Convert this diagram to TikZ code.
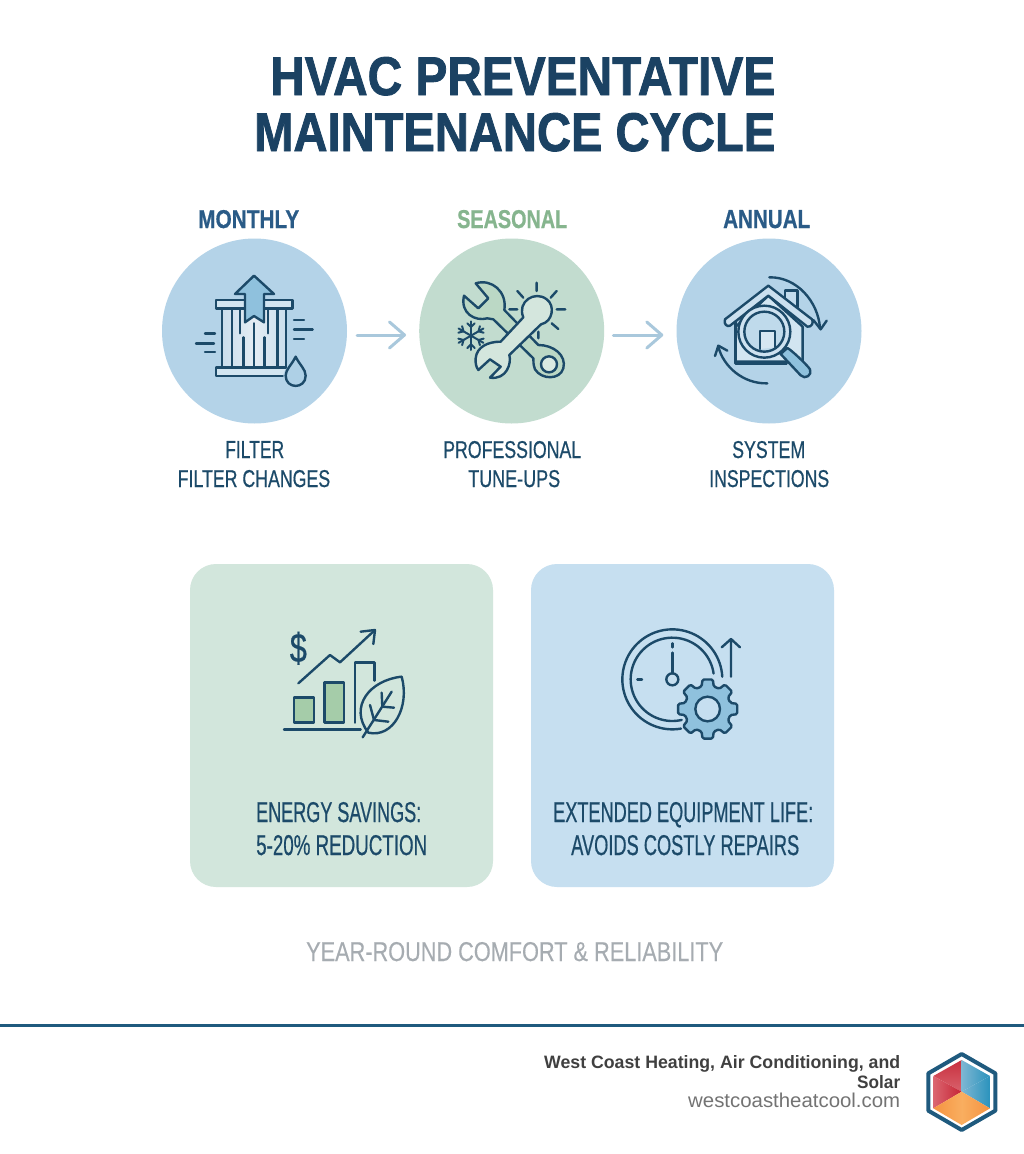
\documentclass[tikz,border=0pt]{standalone}
\usepackage{fontspec}
\usepackage{graphicx}
\setmainfont{Liberation Sans}
\newfontfamily\titlefont[BoldFeatures={FakeBold=1.6}]{Liberation Sans}
\newfontfamily\headfont[BoldFeatures={FakeBold=0.8}]{Liberation Sans}
\newfontfamily\labelfont[FakeBold=0.7]{Liberation Sans}
\newfontfamily\tagfont[FakeBold=0.3]{Liberation Sans}
\usetikzlibrary{arrows.meta}
\definecolor{navy}{HTML}{1B4263}
\definecolor{ink}{HTML}{1C4A69}
\definecolor{bluehead}{HTML}{2A5B87}
\definecolor{greenhead}{HTML}{86B58E}
\definecolor{circblue}{HTML}{B4D3E8}
\definecolor{circgreen}{HTML}{C2DCCF}
\definecolor{boxgreen}{HTML}{D2E6DC}
\definecolor{boxblue}{HTML}{C6DFF0}
\definecolor{arrowblue}{HTML}{A9C8DC}
\definecolor{accent}{HTML}{8FC1DD}
\definecolor{barfill}{HTML}{A5CCA9}
\definecolor{tagline}{HTML}{A6ACB1}
\definecolor{rulecol}{HTML}{1F5A7E}
\definecolor{filterA}{HTML}{C9DDEC}
\definecolor{filterB}{HTML}{E4EDF4}
\definecolor{redA}{HTML}{C8303F}
\definecolor{redB}{HTML}{D9626C}
\definecolor{redC}{HTML}{DB6670}
\definecolor{redD}{HTML}{C62435}
\definecolor{blueA}{HTML}{7DB6D2}
\definecolor{blueB}{HTML}{2A93BD}
\definecolor{orA}{HTML}{F9AE60}
\definecolor{orB}{HTML}{F59340}
\newcommand\lbl[7]{% name, x0, x1, ytop, ybase, style, text
  \pgfmathsetlengthmacro\wid{#3-#2}\pgfmathsetlengthmacro\hei{#5-#4}
  \node[anchor=base west,inner sep=0pt,#6] (#1) at (#2,#5)
    {\resizebox{\wid}{\hei}{\fontsize{20}{20}\selectfont #7}};}
\tikzset{
  x=1pt,y=-1pt,
  titletxt/.style={text=navy,font=\titlefont\bfseries},
  headblue/.style={text=bluehead,font=\headfont\bfseries},
  headgreen/.style={text=greenhead,font=\headfont\bfseries},
  bodytxt/.style={text=ink,font=\labelfont},
  disc/.style={circle,minimum size=185pt,inner sep=0pt},
  panel/.style={rectangle,minimum width=303pt,minimum height=323pt,rounded corners=26pt,inner sep=0pt},
  flow/.style={draw=arrowblue,line width=3pt,line cap=round,-{Straight Barb[length=15pt,width=26pt,line width=3pt,round]}},
  ico/.style={draw=ink,line width=2.4pt,line cap=round,line join=round},
}
\begin{document}
\begin{tikzpicture}
\useasboundingbox (0,0) rectangle (1024,1154);
\fill[white] (0,0) rectangle (1024,1154);

% title
\lbl{t1}{270}{775}{57}{95}{titletxt}{HVAC PREVENTATIVE}
\lbl{t2}{254}{775}{113}{151}{titletxt}{MAINTENANCE CYCLE}

% heads
\lbl{h1}{198}{299}{210}{228}{headblue}{MONTHLY}
\lbl{h2}{457}{567}{210}{228}{headgreen}{SEASONAL}
\lbl{h3}{723}{810}{210}{228}{headblue}{ANNUAL}

% circles
\node[disc,fill=circblue] (c1) at (254.5,331) {};
\node[disc,fill=circgreen] (c2) at (511.7,331) {};
\node[disc,fill=circblue] (c3) at (769,331) {};
\draw[flow] ([shift={(10,4)}]c1.east) -- ([shift={(-13,4)}]c2.west);
\draw[flow] ([shift={(9,4)}]c2.east) -- ([shift={(-13,4)}]c3.west);

% filter icon
\begin{scope}[shift={(150,230)},scale=1/3]
  \fill[left color=filterA,right color=filterA,middle color=filterB] (216,236) rectangle (408,412);
  \draw[ico] (216,236) -- (216,412) (246,236) -- (246,412) (270,236) -- (270,310)
     (281,322) -- (281,412) (312,280) -- (312,412) (343,322) -- (343,412) (354,236) -- (354,310)
     (382,236) -- (382,412) (408,236) -- (408,412);
  \draw[ico,fill=circblue!60!white] (198,210) rectangle (427,236);
  \draw[ico,fill=circblue!60!white] (398,438) -- (198,438) -- (198,412) -- (408,412);
  \draw[ico,fill=accent] (312,137) -- (372,192) -- (342,192) -- (342,277) -- (312,258) -- (285,277) -- (285,192) -- (255,192) -- cycle;
  \draw[ico] (165,310) -- (195,310) (138,340) -- (192,340) (165,366) -- (195,366);
  \draw[ico] (432,270) -- (462,270) (432,298) -- (488,298) (432,327) -- (462,327);
  \draw[ico,fill=circblue!85!accent] (437,380) .. controls (425,405) and (407,418) .. (407,437)
     .. controls (407,478) and (467,478) .. (467,437) .. controls (467,418) and (449,405) .. (437,380) -- cycle;
\end{scope}

% tools icon
\begin{scope}[shift={(410,230)},scale=1/3]
  \draw[ico] (380,158) -- (380,183) (322,183) -- (340,203) (440,183) -- (422,203)
     (440,238) -- (466,238) (298,238) -- (322,238) (425,280) -- (445,297) (385,305) -- (385,325);
  \draw[ico,fill=circgreen!75!barfill]
     (197,160) .. controls (245,145) and (292,185) .. (283,240) -- (385,345)
     .. controls (430,345) and (470,375) .. (460,415) .. controls (450,450) and (395,450) .. (375,418)
     .. controls (370,405) and (370,395) .. (370,385) -- (250,268) -- (232,265)
     .. controls (195,275) and (150,250) .. (162,197) -- (205,235) -- (235,205) -- cycle;
  \draw[ico,fill=circgreen!60!white] (417,403) circle (24);
  \draw[ico,fill=circgreen!70!white]
     (340,262) -- (272,335) .. controls (235,335) and (200,350) .. (197,385) .. controls (196,400) and (198,410) .. (205,420)
     -- (240,388) -- (272,410) -- (240,443) .. controls (290,450) and (305,400) .. (298,375) -- (393,283)
     .. controls (430,275) and (435,225) .. (410,208) .. controls (375,180) and (320,215) .. (340,262) -- cycle;
  \begin{scope}[shift={(183,317)}]
    \foreach \a in {30,90,150,210,270,330}{
      \draw[ico,line width=2pt] (0,0) -- (\a:43);
      \draw[ico,line width=2pt] (\a:26) -- ++({\a+45}:16) (\a:26) -- ++({\a-45}:16);
    }
  \end{scope}
\end{scope}

% house icon
\begin{scope}[shift={(670,230)},scale=1/3]
  \draw[ico,fill=circblue!80!white] (345,205) -- (345,182) -- (382,182) -- (382,232);
  \draw[ico,fill=circblue!60!white] (197,290) -- (295,197) -- (398,290) -- (398,395) -- (197,395) -- cycle;
  \draw[ico] (197,272) -- (197,400) -- (350,400);
  \draw[ico,fill=circblue!70!white] (295,167) -- (165,268) .. controls (160,282) and (172,292) .. (180,287)
     -- (295,197) -- (412,290) .. controls (425,292) and (432,278) .. (426,268) -- cycle;
  \draw[ico,fill=circblue!65!white] (283,305) circle (78);
  \draw[ico,fill=circblue!85!white] (283,305) circle (60);
  \draw[ico,fill=circblue!55!white] (270,357) -- (270,303) -- (315,303) -- (315,352);
  \draw[ico,fill=accent] (332,372) -- (352,354) .. controls (362,358) and (412,405) .. (420,418)
     .. controls (428,435) and (405,450) .. (392,436) -- cycle;
  \draw[ico] (298,142) .. controls (380,140) and (445,215) .. (450,295);
  \draw[ico] (430,270) -- (452,298) -- (470,272);
  \draw[ico] (292,460) .. controls (220,462) and (160,410) .. (145,350);
  \draw[ico] (135,378) -- (145,347) -- (172,362);
\end{scope}

% lower labels under circles
\lbl{l1a}{225}{284}{441}{458}{bodytxt}{FILTER}
\lbl{l1b}{177.5}{330}{470}{487}{bodytxt}{FILTER CHANGES}
\lbl{l2a}{443}{581}{441}{458}{bodytxt}{PROFESSIONAL}
\lbl{l2b}{468}{560}{470}{487}{bodytxt}{TUNE-UPS}
\lbl{l3a}{732}{805}{441}{458}{bodytxt}{SYSTEM}
\lbl{l3b}{709}{829}{470}{487}{bodytxt}{INSPECTIONS}

% panels
\node[panel,fill=boxgreen] (p1) at (341.5,725.5) {};
\node[panel,fill=boxblue] (p2) at (682.5,725.5) {};

% chart icon
\begin{scope}[shift={(270,610)},scale=1/3]
  \node[inner sep=0pt,text=ink,font=\labelfont] (dollar) at (85,115) {\resizebox*{17pt}{33pt}{\$}};
  \draw[ico,fill=barfill] (72,262) rectangle (132,338);
  \draw[ico,fill=barfill] (163,217) rectangle (222,338);
  \draw[ico] (255,338) -- (255,157) -- (313,157) -- (313,212);
  \draw[ico] (42,358) -- (272,358);
  \draw[ico] (85,220) -- (180,135) -- (210,157) -- (315,60);
  \draw[ico] (272,65) -- (315,60) -- (310,102);
  \draw[ico,fill=boxgreen] (395,200) .. controls (300,210) and (235,290) .. (295,368)
     .. controls (370,385) and (420,290) .. (395,200) -- cycle;
  \draw[ico] (278,382) -- (365,245);
  \draw[ico] (337,290) -- (335,248) (337,290) -- (372,293)
     (312,330) -- (300,285) (312,330) -- (355,335);
\end{scope}

% clock and gear icon
\begin{scope}[shift={(610,610)},scale=1/3]
  \draw[ico] plot[domain=-3:-280,samples=70,smooth] ({187+150*cos(\x)},{208+150*sin(\x)});
  \draw[ico] plot[domain=-8:-283,samples=70,smooth] ({187+125*cos(\x)},{208+125*sin(\x)});
  \draw[ico] (187,100) -- (187,112) (187,128) -- (187,190) (82,208) -- (96,208);
  \draw[ico] (187,208) circle (18);
  \draw[ico] (363,200) -- (363,87) (335,112) -- (363,87) -- (390,112);
  \begin{scope}[shift={(293,297)}]
    \draw[ico,fill=accent,rounded corners=1.5pt] (-15:70)
      \foreach \i in {0,...,7}{ -- ({\i*45-15}:70) -- ({\i*45-10}:90) -- ({\i*45+10}:90) -- ({\i*45+15}:70) } -- cycle;
    \draw[ico,fill=boxblue] (0,0) circle (37);
  \end{scope}
\end{scope}

% panel text
\lbl{e1}{256}{421}{802}{822}{bodytxt}{ENERGY SAVINGS:}
\lbl{e2}{256}{427}{835}{855}{bodytxt}{5-20\% REDUCTION}
\lbl{x1}{553}{813}{802}{822}{bodytxt}{EXTENDED EQUIPMENT LIFE:}
\lbl{x2}{571}{799}{835}{855}{bodytxt}{AVOIDS COSTLY REPAIRS}

% tagline
\lbl{tag}{306}{723}{942}{961}{text=tagline,font=\tagfont}{YEAR-ROUND COMFORT \& RELIABILITY}

% footer
\coordinate (ruleL) at (0,1025.5);
\coordinate (ruleR) at (1024,1025.5);
\draw[rulecol,line width=3pt] (ruleL) -- (ruleR);
\lbl{f1}{544}{900}{1055}{1068}{text=black!75,font=\bfseries}{West Coast Heating, Air Conditioning, and}
\lbl{f2}{857}{900}{1075}{1088}{text=black!75,font=\bfseries}{Solar}
\lbl{f3}{688}{900}{1092.5}{1107}{text=black!55}{westcoastheatcool.com}

% logo
\begin{scope}[shift={(520,1020)},scale=1/3]
  \coordinate (C) at (1325,215);
  \coordinate (T) at (1325,120);
  \coordinate (UR) at (1410,168);
  \coordinate (LR) at (1410,265);
  \coordinate (B) at (1325,315);
  \coordinate (LL) at (1240,265);
  \coordinate (UL) at (1240,168);
  \draw[rulecol,line width=4pt,line join=round,fill=white] (1325,102) -- (1426,160) -- (1426,272) -- (1325,330) -- (1225,272) -- (1225,160) -- cycle;
  \shade[top color=redA,bottom color=redB] (C) -- (T) -- (UL) -- cycle;
  \shade[left color=redC,right color=redD] (C) -- (UL) -- (LL) -- cycle;
  \shade[left color=blueA,right color=blueB] (C) -- (T) -- (UR) -- cycle;
  \shade[left color=blueA,right color=blueB] (C) -- (UR) -- (LR) -- cycle;
  \shade[left color=orA,right color=orB] (C) -- (LR) -- (B) -- cycle;
  \shade[left color=orB,right color=orA] (C) -- (B) -- (LL) -- cycle;
\end{scope}
\end{tikzpicture}
\end{document}
